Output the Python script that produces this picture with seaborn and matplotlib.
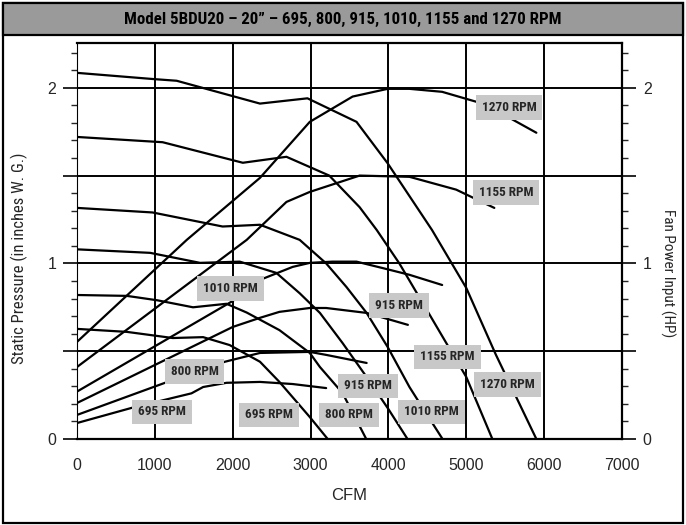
import matplotlib
matplotlib.use("Agg")
import matplotlib.pyplot as plt
import seaborn as sns
import numpy as np
import pandas as pd
from matplotlib.patches import Rectangle
from matplotlib.ticker import FixedLocator, MultipleLocator
from matplotlib import font_manager

# ---------------- data ----------------
title = "Model 5BDU20 \u2013 20\u201d \u2013 695, 800, 915, 1010, 1155 and 1270 RPM"
x_label = "CFM"
y_label_left = "Static Pressure (in inches W. G.)"
y_label_right = "Fan Power Input (HP)"
x_ticks = [0, 1000, 2000, 3000, 4000, 5000, 6000, 7000]
y_tick_labels = ["0", "", "1", "", "2"]

# static pressure curves (in. W.G.) vs CFM
sp_1270_cfm = [0, 970, 1280, 2350, 2960, 3590, 3990, 4560, 5000, 5380, 5640, 5900]
sp_1270 = [2.085, 2.05, 2.04, 1.91, 1.94, 1.806, 1.57, 1.19, 0.86, 0.48, 0.24, 0.0]
sp_1155_cfm = [0, 1100, 2130, 2690, 3240, 3630, 3850, 4140, 4530, 5000, 5335]
sp_1155 = [1.72, 1.69, 1.573, 1.607, 1.50, 1.32, 1.19, 1.0, 0.707, 0.353, 0.0]
sp_1010_cfm = [0, 970, 1870, 2350, 2860, 3200, 3460, 3720, 3990, 4270, 4400, 4695]
sp_1010 = [1.316, 1.29, 1.21, 1.22, 1.134, 1.0, 0.866, 0.718, 0.524, 0.296, 0.205, 0.0]
sp_915_cfm = [0, 940, 1580, 2090, 2560, 2860, 3120, 3410, 3720, 4000, 4245]
sp_915 = [1.08, 1.06, 1.003, 1.01, 0.946, 0.83, 0.718, 0.547, 0.353, 0.17, 0.0]
sp_800_cfm = [0, 640, 1030, 1490, 1920, 2180, 2600, 2990, 3120, 3410, 3715]
sp_800 = [0.82, 0.815, 0.79, 0.75, 0.77, 0.72, 0.62, 0.49, 0.41, 0.262, 0.0]
sp_695_cfm = [0, 640, 1230, 1620, 1960, 2350, 2600, 2990, 3220]
sp_695 = [0.627, 0.61, 0.575, 0.58, 0.535, 0.44, 0.325, 0.125, 0.0]

# fan power curves (HP) vs CFM
hp_1270_cfm = [0, 1410, 2350, 2990, 3540, 3990, 4270, 4690, 5170, 5550, 5900]
hp_1270 = [0.553, 1.134, 1.487, 1.806, 1.95, 1.994, 1.994, 1.977, 1.915, 1.83, 1.744]
hp_1155_cfm = [0, 2180, 2690, 2990, 3630, 4270, 4870, 5360]
hp_1155 = [0.41, 1.134, 1.35, 1.407, 1.5, 1.493, 1.42, 1.316]
hp_1010_cfm = [0, 2000, 2350, 2770, 2990, 3280, 3590, 3920, 4270, 4690]
hp_1010 = [0.27, 0.786, 0.906, 0.98, 1.003, 1.01, 1.01, 0.974, 0.935, 0.877]
hp_915_cfm = [0, 2000, 2350, 2600, 2990, 3200, 3720, 4250]
hp_915 = [0.205, 0.638, 0.69, 0.724, 0.746, 0.746, 0.718, 0.65]
hp_800_cfm = [0, 1130, 1900, 2350, 2990, 3200, 3720]
hp_800 = [0.137, 0.32, 0.44, 0.49, 0.496, 0.479, 0.433]
hp_695_cfm = [0, 700, 1470, 1620, 1920, 2350, 2770, 3200]
hp_695 = [0.091, 0.177, 0.26, 0.296, 0.32, 0.325, 0.313, 0.29]

curve_labels = ["1270 RPM", "1155 RPM", "1010 RPM", "915 RPM", "800 RPM", "695 RPM"]

# label anchor positions (layout)
label_positions = [
    ("1270 RPM", 5550, 1.89), ("1155 RPM", 5510, 1.405),
    ("1010 RPM", 1970, 0.855), ("915 RPM", 4140, 0.758),
    ("1155 RPM", 4760, 0.467), ("1270 RPM", 5530, 0.308),
    ("800 RPM", 1510, 0.382), ("915 RPM", 3740, 0.302),
    ("695 RPM", 1090, 0.154), ("695 RPM", 2470, 0.137),
    ("800 RPM", 3490, 0.137), ("1010 RPM", 4550, 0.154),
]

# ---------------- build long table ----------------
sp_sets = [(sp_1270_cfm, sp_1270), (sp_1155_cfm, sp_1155), (sp_1010_cfm, sp_1010),
           (sp_915_cfm, sp_915), (sp_800_cfm, sp_800), (sp_695_cfm, sp_695)]
hp_sets = [(hp_1270_cfm, hp_1270), (hp_1155_cfm, hp_1155), (hp_1010_cfm, hp_1010),
           (hp_915_cfm, hp_915), (hp_800_cfm, hp_800), (hp_695_cfm, hp_695)]
rows = []
for lab, (cx, cy) in zip(curve_labels, sp_sets):
    for a, b in zip(cx, cy):
        rows.append(dict(cfm=a, value=b, curve="SP " + lab))
for lab, (cx, cy) in zip(curve_labels, hp_sets):
    for a, b in zip(cx, cy):
        rows.append(dict(cfm=a, value=b, curve="HP " + lab))
df = pd.DataFrame(rows)

# ---------------- fonts ----------------
sns.set_style("white")
plt.rcParams["font.family"] = ["Liberation Sans", "DejaVu Sans"]
names = {f.name for f in font_manager.fontManager.ttflist}
cond = "Roboto Condensed" in names
narrow_family = ["Roboto Condensed", "Roboto", "DejaVu Sans"] if cond else ["Roboto", "DejaVu Sans"]
narrow = dict(family=narrow_family)

W, H = 686, 525
fig = plt.figure(figsize=(W / 100, H / 100), dpi=100)
fig.patch.set_facecolor("white")

# outer frame and title bar
fig.patches.append(Rectangle((3 / W, 2 / H), 1 - 6 / W, 1 - 5 / H, transform=fig.transFigure,
                             fill=False, edgecolor="black", linewidth=1.6, zorder=0))
fig.patches.append(Rectangle((3 / W, 1 - 35 / H), 1 - 6 / W, 32 / H, transform=fig.transFigure,
                             facecolor="#9a9a9a", edgecolor="black", linewidth=1.6, zorder=1))
fig.text(0.5, 1 - 19 / H, title, ha="center", va="center",
         fontsize=12.2 if cond else 10.8,
         fontweight="bold", color="black", **narrow)

ax = fig.add_axes([77 / W, (H - 439) / H, (622 - 77) / W, (439 - 43) / H])
ax.set_facecolor("white")

sns.lineplot(data=df, x="cfm", y="value", units="curve", estimator=None, sort=False,
             color="black", linewidth=1.6, ax=ax, legend=False, zorder=3)

ax.set_xlim(0, 7000)
ax.set_ylim(0, 2.255)

# grid
for gx in x_ticks[1:-1]:
    ax.axvline(gx, color="black", linewidth=1.4, zorder=1)
for gy in [0.5, 1.0, 1.5, 2.0]:
    ax.axhline(gy, color="black", linewidth=1.4, zorder=1)

ax.xaxis.set_major_locator(FixedLocator(x_ticks))
ax.xaxis.set_minor_locator(MultipleLocator(250))
ax.yaxis.set_major_locator(FixedLocator([0, 0.5, 1.0, 1.5, 2.0]))
ax.yaxis.set_minor_locator(MultipleLocator(0.1))
ax.set_yticklabels(y_tick_labels)

ax.tick_params(axis="x", which="major", direction="inout", length=10, width=1.4,
               labelsize=11.5, pad=8.5)
ax.tick_params(axis="x", which="minor", direction="out", length=5, width=1.2)
ax.tick_params(axis="y", which="major", direction="out", length=10, width=1.4,
               labelsize=11.5, pad=5, left=True, right=True, labelleft=True, labelright=True)
ax.tick_params(axis="y", which="minor", direction="out", length=4, width=1.0,
               left=True, right=True)

for s in ["top", "right", "bottom"]:
    ax.spines[s].set_linewidth(1.6)
    ax.spines[s].set_color("black")
ax.spines["left"].set_linewidth(0.8)
ax.spines["left"].set_color("black")

ax.set_xlabel(x_label, fontsize=12, labelpad=11)
ax.set_ylabel("")
fig.text(19 / W, 1 - 258 / H, y_label_left, rotation=90, ha="center", va="center",
         fontsize=12 if cond else 10.5, **narrow)
fig.text(668 / W, 1 - 273 / H, y_label_right, rotation=270, ha="center", va="center",
         fontsize=11 if cond else 9.5, **narrow)

for txt, lx, ly in label_positions:
    ax.text(lx, ly, txt, ha="center", va="center",
            fontsize=9.5 if cond else 8, fontweight="bold", zorder=5,
            bbox=dict(boxstyle="square,pad=0.45", facecolor="#c8c8c8", edgecolor="none"),
            **narrow)

fig.savefig("out.png", dpi=100, facecolor="white")
